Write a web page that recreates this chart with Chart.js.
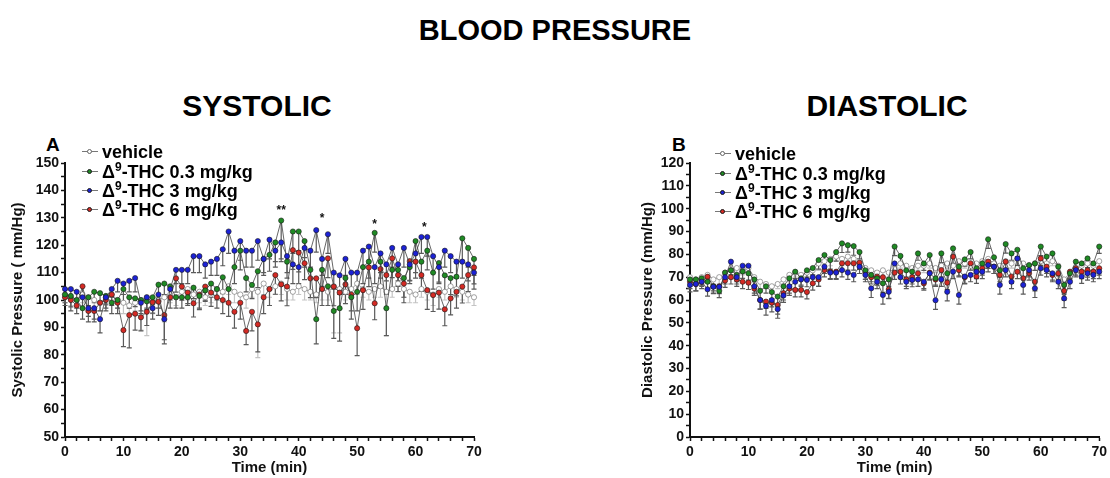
<!DOCTYPE html>
<html>
<head>
<meta charset="utf-8">
<script src="https://cdn.jsdelivr.net/npm/chart.js@4/dist/chart.umd.min.js"></script>
<style>
  html, body { margin:0; padding:0; background:#fff; }
  body { width:1110px; height:478px; position:relative; overflow:hidden; font-family:'Liberation Sans', Arial, Helvetica, sans-serif; color:#000; }
  .ttl { position:absolute; font-weight:bold; line-height:1; white-space:nowrap; text-align:center; }
  .letter { position:absolute; font-weight:bold; font-size:19px; line-height:1; }
  canvas { position:absolute; }
  .leg { position:absolute; font-weight:bold; font-size:18px; line-height:20px; height:20px; white-space:nowrap; }
  .leg sup { font-size:12px; vertical-align:baseline; position:relative; top:-7px; line-height:0; }
  .mk { position:absolute; top:9px; width:16px; height:1px; background:#777; }
  .mk i { position:absolute; left:5px; top:-2px; width:5px; height:5px; border-radius:50%; box-sizing:border-box; border:1px solid #444; }
</style>
</head>
<body>
<div class="ttl" style="left:0;width:1110px;top:16px;font-size:29px;">BLOOD PRESSURE</div>
<div class="ttl" style="left:157px;width:200px;top:91px;font-size:30px;">SYSTOLIC</div>
<div class="ttl" style="left:787px;width:200px;top:91px;font-size:30px;">DIASTOLIC</div>
<div class="letter" style="left:46px;top:135px;">A</div>
<div class="letter" style="left:672px;top:135px;">B</div>
<canvas id="sys" width="500" height="358" style="left:0;top:120px;"></canvas>
<canvas id="dia" width="490" height="358" style="left:620px;top:120px;"></canvas>
<div id="legSys"></div>
<div id="legDia"></div>
<script>
// ---------- DATA ----------
const times = [0,1,2,3,4,5,6,7,8,9,
  10,11,12,13,14,15,16,17,18,19,
  20,21,22,23,24,25,26,27,28,29,
  30,31,32,33,34,35,36,37,38,39,
  40,41,42,43,44,45,46,47,48,49,
  50,51,52,53,54,55,56,57,58,59,
  60,61,62,63,64,65,66,67,68,69,
  70];

const seriesLabels = ['vehicle', 'THC 0.3 mg/kg', 'THC 3 mg/kg', 'THC 6 mg/kg'];
const seriesPrefix = ['', '\u0394', '\u0394', '\u0394'];
const seriesSup = ['', '9', '9', '9'];

// Systolic (mm/Hg)
const sysVehicle = [102,101,100,102,101,100,99,101,102,100,
  99,98,99,100,101,99,100,101,102,101,
  103,104,102,103,101,102,104,103,105,103,
  102,101,104,103,106,104,105,106,104,103,
  105,104,103,102,104,103,105,104,103,104,
  106,104,103,104,105,103,104,106,104,103,
  102,104,103,102,104,103,105,104,103,102,
  101];
const sysLow = [102,101.5,100,97,101,103,102.5,101.5,99,100,
  104,101,100.6,100,99.5,101,105.6,106,105,101,
  101,101,104.5,101.5,103.5,106,104,108.3,104,112,
  118,108,105.5,110.5,115,116.5,121,129,114,125,
  125,121.5,111,93,111,105,96,97,108,101,
  103,112,114,124.5,114,97,111,111,108,112,
  121.5,114,118,110,113.5,109,108,108.5,122.5,119,
  115];
const sysMid = [104,104,103,101,97,97,93,101,104,107,
  106,107,108,99,101,97,102,93,104,111,
  111,111,116,116,113,114,115,118.5,125,118,
  121.5,118,118,121.5,115,122,118,121,116,113,
  112,119,118,125.5,115,124,110,109,115,110,
  110,118,119.5,112,117,113,119,113,119,113,
  117,123,123,116,112,118,116,114,114,113,
  110];
const sysHigh = [101,100,98,105,96,96,99,100,102,99,
  89,94.5,95,93.7,95.7,99.2,99.4,94.5,101,107.9,
  104.9,102.7,98.8,102,104.9,102.7,101,100,99,95.7,
  99,88.7,95.7,91.1,101,104,109.1,105.7,104.9,118.2,
  117.3,113.4,107.9,107.9,104,115.2,104.9,102.7,105.7,102,
  89.7,103.6,111.9,98.8,111.3,109.1,115.2,109.1,106,114.2,
  114,109.1,103.6,101.8,102.7,96.6,100.6,103,104.9,109.1,
  111.9];
// lower error-bar extent (SEM, drawn below each point)
const sysVehicleErr = [3,3,2,3,3,4,3,3,2,3,
  4,3,3,11,14,4,3,9,3,3,
  3,4,3,4,3,3,3,4,3,4,
  3,4,3,24,4,3,3,4,4,3,
  3,4,3,3,4,3,17,16,3,3,
  4,3,3,3,4,16,3,3,3,4,
  3,3,3,4,3,3,4,3,3,3,
  3];
const sysLowErr = [3,4,3,4,3,4,3,3,4,3,
  5,4,3,4,3,4,5,4,3,4,
  4,3,4,5,4,5,4,6,5,6,
  7,5,5,6,5,6,7,14,6,8,
  7,6,8,9,6,7,10,12,6,8,
  7,6,6,7,6,10,7,6,7,6,
  7,6,7,6,7,6,6,7,8,7,
  6];
const sysMidErr = [3,3,3,4,3,4,5,4,3,4,
  4,4,5,4,4,4,5,9,4,5,
  5,5,6,6,5,5,6,6,8,6,
  7,6,6,7,6,7,6,7,6,7,
  6,7,6,8,6,7,6,7,6,6,
  7,6,7,6,7,6,7,6,7,6,
  7,6,7,6,6,6,6,6,6,6,
  6];
const sysHighErr = [3,4,3,4,4,4,3,4,4,4,
  6,12,6,5,5,4,5,9,4,5,
  5,4,5,5,5,5,4,5,5,6,
  6,5,7,10,6,6,7,6,7,7,
  7,6,7,7,6,7,7,6,7,6,
  10,7,7,6,7,7,7,6,7,7,
  6,6,7,6,6,6,6,6,6,6,
  6];
// significance marks (systolic)
const sigTimes = [37, 44, 53, 61.5];
const sigValues = [132.5, 129.5, 127.5, 126.5];
const sigLabels = ['**', '*', '*', '*'];

// Diastolic (mm/Hg)
const diaVehicle = [70,69,70,71,69,70,72,73,74,73,
  74,70,68,67,66,67,69,71,72,71,
  72,73,76,77,78,79,78,79,78,76,
  74,73,72,73,72,74,76,75,74,75,
  75,76,74,75,76,75,77,76,75,76,
  77,78,76,75,77,76,78,76,75,76,
  77,76,77,75,69,72,74,75,76,75,
  77];
const diaLow = [69,69,69.5,68,66,64,72,73,71,72.5,
  71.7,69,64,66,63.5,61.5,66,69.5,72.4,69.5,
  73,74,77.5,79.7,77.5,81,84.8,84,83.6,81,
  73,71,69.5,67.3,69,83.4,79.3,73,72.4,80.4,
  76,79.7,69.5,80.4,71.7,82.6,74.6,77.8,81,73.9,
  76,86.6,78.7,73,84.5,80.4,82,73.9,75.3,76,
  83.4,79,80.4,74.6,66.6,71.7,76.8,76,78.2,76,
  83.4];
const diaMid = [66.6,67,68,64.7,65.8,65.8,70,76.8,70,75,
  75,66,60,57.4,60,56,62,66,68,69,
  68.8,70,70,74.6,72,72,73.1,72,71,74.6,
  71,65.1,68,62.2,63.6,76,70,68,68.8,69,
  68,71.7,59.9,69,63.6,72.4,62.2,70.3,71,72.4,
  72.4,75.3,74.6,66.6,73.1,68,78.2,66.6,73.1,65.1,
  73.9,73.1,71.7,68,60.7,68,73.1,70.3,71.7,71,
  72.4];
const diaHigh = [68,67,68,70.2,66,66,68.5,70,69,68,
  67.6,65,60,59.3,58.8,57.8,63,65,64.4,64.4,
  63.5,67.3,69,73.1,72.4,72.4,76.1,76.1,76.1,76.4,
  72,70,70.3,70,64.7,72,72.4,69,70,71.7,
  67.3,72,69,73.1,67.6,79,73.1,70,76.1,70.3,
  73.9,76.8,74.6,71,76.8,70.3,72.4,69.5,71.7,68,
  78.2,74.6,71,71.7,64,72.4,73.9,72.4,73,72.4,
  73.9];
const diaVehicleErr = [2,2,3,2,2,3,2,2,3,2,
  3,2,3,2,3,2,2,3,2,2,
  3,2,3,2,3,2,3,2,3,2,
  2,3,2,3,2,3,2,2,3,2,
  3,2,2,3,2,2,3,2,2,3,
  2,3,2,2,3,2,3,2,2,3,
  2,3,2,2,3,2,2,3,2,2,
  3];
const diaLowErr = [3,2,3,3,2,3,3,2,3,3,
  3,3,4,3,3,4,3,3,3,3,
  3,3,4,3,4,4,4,3,4,3,
  4,3,3,4,3,4,3,3,4,3,
  3,4,3,4,3,3,4,3,3,4,
  3,4,3,3,4,3,3,4,3,3,
  4,3,3,4,4,3,3,3,4,3,
  3];
const diaMidErr = [3,3,2,3,3,3,3,3,3,3,
  3,3,4,4,3,4,3,3,3,3,
  3,3,4,3,3,3,3,3,3,3,
  3,4,3,4,3,3,3,3,3,3,
  3,3,4,3,4,3,4,3,3,3,
  3,3,3,4,3,3,3,4,3,4,
  3,3,3,3,4,3,3,3,3,3,
  3];
const diaHighErr = [3,3,3,2,3,3,3,3,3,3,
  3,3,4,3,4,4,3,3,3,3,
  3,3,3,3,3,3,3,3,3,3,
  3,3,3,3,4,3,3,3,3,3,
  3,3,3,3,3,3,3,3,3,3,
  3,3,3,3,3,3,3,3,3,4,
  3,3,3,3,4,3,3,3,3,3,
  3];

// ---------- STYLE ----------
const pointFill = ['#ffffff', '#1f8a24', '#1c22d6', '#d42a24'];
const pointEdge = ['#666666', '#1a1a1a', '#1a1a1a', '#1a1a1a'];
const lineCol = ['#8a8a8a', '#404040', '#404040', '#404040'];
const errCol = ['#c4c4c4', '#5a5a5a', '#5a5a5a', '#5a5a5a'];
const drawOrder = [4, 2, 1, 3];
const FONT = "'Liberation Sans', Arial, Helvetica, sans-serif";

Chart.defaults.font.family = FONT;
Chart.defaults.color = '#111';

const errorBars = {
  id: 'errorBars',
  beforeDatasetsDraw(chart) {
    const ctx = chart.ctx, xs = chart.scales.x, ys = chart.scales.y;
    ctx.save();
    ctx.lineWidth = 1.2;
    chart.data.datasets.slice().sort((a, b) => b.order - a.order).forEach(ds => {
      if (!ds.errors) return;
      ctx.strokeStyle = ds.errorColor;
      ds.data.forEach((p, i) => {
        const e = ds.errors[i];
        const px = xs.getPixelForValue(p.x);
        const y0 = ys.getPixelForValue(p.y);
        const yb = ys.getPixelForValue(p.y - e);
        ctx.beginPath();
        ctx.moveTo(px, y0); ctx.lineTo(px, yb);
        ctx.moveTo(px - 2.5, yb); ctx.lineTo(px + 2.5, yb);
        ctx.stroke();
      });
    });
    ctx.restore();
  }
};

const sigMarks = {
  id: 'sigMarks',
  afterDatasetsDraw(chart, args, opts) {
    if (!opts || !opts.times) return;
    const ctx = chart.ctx, xs = chart.scales.x, ys = chart.scales.y;
    ctx.save();
    ctx.fillStyle = '#111';
    ctx.font = 'bold 12px ' + FONT;
    ctx.textAlign = 'center';
    ctx.textBaseline = 'middle';
    opts.times.forEach((t, i) => {
      ctx.fillText(opts.labels[i], xs.getPixelForValue(t), ys.getPixelForValue(opts.values[i]));
    });
    ctx.restore();
  }
};

function makeDatasets(vals, errs) {
  return vals.map((v, k) => ({
    label: seriesPrefix[k] + seriesSup[k] + (k ? '-' : '') + seriesLabels[k],
    data: times.map((t, i) => ({ x: t, y: v[i] })),
    errors: errs[k],
    errorColor: errCol[k],
    order: drawOrder[k],
    borderColor: lineCol[k],
    borderWidth: 0.8,
    pointRadius: 2.6,
    pointHoverRadius: 2.6,
    pointBackgroundColor: pointFill[k],
    pointBorderColor: pointEdge[k],
    pointBorderWidth: 0.6,
    tension: 0,
    clip: false,
    fill: false
  }));
}

function makeChart(id, vals, errs, yMin, yMax, yTitle, yAxisWidth, titlePad, padRight, sig) {
  return new Chart(document.getElementById(id), {
    type: 'line',
    data: { datasets: makeDatasets(vals, errs) },
    plugins: [errorBars, sigMarks],
    options: {
      responsive: false,
      animation: false,
      devicePixelRatio: 1,
      layout: { padding: { top: 43, right: padRight, left: 0, bottom: 0 } },
      plugins: {
        legend: { display: false },
        tooltip: { enabled: false },
        sigMarks: sig
      },
      scales: {
        x: {
          type: 'linear', min: 0, max: 70,
          afterFit(s) { s.height = 41; },
          ticks: {
            stepSize: 2, autoSkip: false, maxRotation: 0, maxTicksLimit: 100,
            padding: 3, color: '#111',
            font: { size: 14, weight: 'bold' },
            callback: v => (v % 10 === 0 ? String(v) : '')
          },
          grid: { drawOnChartArea: false, drawTicks: true, tickLength: 4, tickWidth: 1.5, tickColor: '#111' },
          border: { display: true, color: '#111', width: 2 },
          title: { display: true, text: 'Time (min)', color: '#111', font: { size: 15, weight: 'bold' }, padding: { top: 0, bottom: 1 } }
        },
        y: {
          type: 'linear', min: yMin, max: yMax,
          afterFit(s) { s.width = yAxisWidth; },
          ticks: {
            stepSize: 5, autoSkip: false, maxTicksLimit: 100,
            padding: 2, color: '#111',
            font: { size: 14, weight: 'bold' },
            callback: v => (v % 10 === 0 ? String(v) : '')
          },
          grid: { drawOnChartArea: false, drawTicks: true, tickLength: 4, tickWidth: 1.5, tickColor: '#111' },
          border: { display: true, color: '#111', width: 2 },
          title: { display: true, text: yTitle, color: '#111', font: { size: 15, weight: 'bold' }, padding: { top: titlePad, bottom: titlePad } }
        }
      }
    }
  });
}

makeChart('sys', [sysVehicle, sysLow, sysMid, sysHigh],
  [sysVehicleErr, sysLowErr, sysMidErr, sysHighErr],
  50, 150, 'Systolic Pressure ( mm/Hg)', 65, 9, 26,
  { times: sigTimes, values: sigValues, labels: sigLabels });
makeChart('dia', [diaVehicle, diaLow, diaMid, diaHigh],
  [diaVehicleErr, diaLowErr, diaMidErr, diaHighErr],
  0, 120, 'Diastolic Pressure (mm/Hg)', 70, 19, 10, null);

// ---------- LEGENDS (HTML) ----------
function buildLegend(el, x, yCenters) {
  let html = '';
  seriesLabels.forEach((lab, k) => {
    const text = k === 0 ? lab : seriesPrefix[k] + '<sup>' + seriesSup[k] + '</sup>-' + lab;
    html += '<div class="leg" style="left:' + x + 'px;top:' + (yCenters[k] - 10) + 'px;">' +
      '<span class="mk" style="left:0;"><i style="background:' + pointFill[k] + ';border-color:' + pointEdge[k] + '"></i></span>' +
      '<span style="position:absolute;left:20px;top:0;">' + text + '</span></div>';
  });
  document.getElementById(el).innerHTML = html;
}
buildLegend('legSys', 82, [152, 172, 191, 210]);
buildLegend('legDia', 715, [154, 173.5, 193, 212]);
</script>
</body>
</html>
